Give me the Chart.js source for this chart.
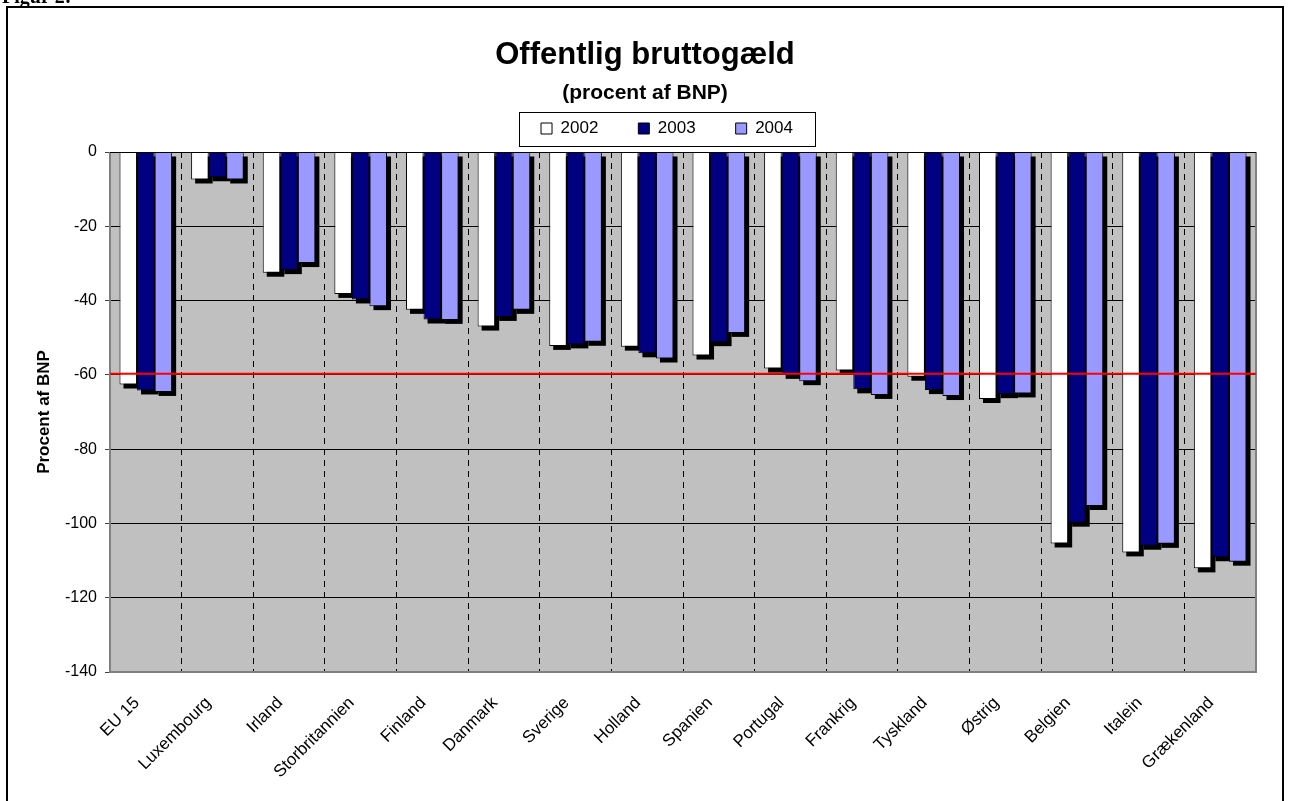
<!DOCTYPE html>
<html>
<head>
<meta charset="utf-8">
<title>Offentlig bruttogæld</title>
<script src="https://cdn.jsdelivr.net/npm/chart.js@4.4.1/dist/chart.umd.min.js"></script>
<style>
    html, body { margin: 0; padding: 0; background: #fff; }
    canvas { display: block; }
</style>
</head>
<body>
<canvas id="myCanvas" width="1289" height="801"></canvas>
<script>
const countries = ['EU 15', 'Luxembourg', 'Irland', 'Storbritannien', 'Finland', 'Danmark', 'Sverige', 'Holland',
    'Spanien', 'Portugal', 'Frankrig', 'Tyskland', 'Østrig', 'Belgien', 'Italein', 'Grækenland'];
const years = ['2002', '2003', '2004'];
const debt2002 = [-62.6, -7.4, -32.5, -38.2, -42.5, -47.0, -52.2, -52.4, -54.8, -58.3, -58.8, -60.5, -66.5, -105.4, -107.8, -112.1];
const debt2003 = [-64.2, -6.8, -31.8, -39.7, -45.1, -44.4, -51.8, -54.2, -51.2, -60.0, -63.9, -64.1, -65.2, -99.8, -106.0, -109.1];
const debt2004 = [-64.6, -7.4, -29.9, -41.5, -45.2, -42.5, -51.1, -55.6, -48.7, -61.7, -65.4, -65.7, -65.0, -95.3, -105.5, -110.3];
const yTicks = [0, -20, -40, -60, -80, -100, -120, -140];
const limit = -60;

const FONT = '"Liberation Sans", Arial, sans-serif';

// baggrund, ramme, skygger, 60%-linje og legende-ramme
const paperPlugin = {
    id: 'paper',
    beforeDraw(chart) {
        const {ctx, chartArea: a} = chart;
        ctx.save();
        ctx.fillStyle = '#fff';
        ctx.fillRect(0, 0, chart.width, chart.height);
        ctx.fillStyle = '#c0c0c0';
        ctx.fillRect(a.left, a.top, a.right - a.left, a.bottom - a.top);
        ctx.strokeStyle = '#000';
        ctx.lineWidth = 2;
        ctx.beginPath();
        ctx.moveTo(7, chart.height + 2);
        ctx.lineTo(7, 7);
        ctx.lineTo(1283, 7);
        ctx.lineTo(1283, chart.height + 2);
        ctx.stroke();
        ctx.fillStyle = '#000';
        ctx.font = 'bold 20px "Liberation Serif", serif';
        ctx.textBaseline = 'alphabetic';
        ctx.fillText('Figur 2:', 2, 3);
        ctx.restore();
    },
    beforeDatasetsDraw(chart) {
        const {ctx, chartArea: a} = chart;
        ctx.save();
        ctx.fillStyle = '#000';
        chart.data.datasets.forEach((ds, i) => {
            chart.getDatasetMeta(i).data.forEach(bar => {
                const p = bar.getProps(['x', 'y', 'base', 'width'], true);
                const top = Math.min(p.y, p.base);
                ctx.fillRect(p.x - p.width / 2 + 4, top + 4, p.width, Math.abs(p.y - p.base));
            });
        });
        ctx.strokeStyle = '#808080';
        ctx.lineWidth = 2;
        ctx.beginPath();
        ctx.moveTo(a.left, a.top);
        ctx.lineTo(a.left, a.bottom);
        ctx.lineTo(a.right, a.bottom);
        ctx.lineTo(a.right, a.top);
        ctx.stroke();
        ctx.restore();
    },
    afterDatasetsDraw(chart) {
        const {ctx, chartArea: a, scales: {y}} = chart;
        ctx.save();
        ctx.strokeStyle = '#000';
        ctx.lineWidth = 1;
        const y0 = Math.round(y.getPixelForValue(0)) + 0.5;
        ctx.beginPath();
        ctx.moveTo(a.left, y0);
        ctx.lineTo(a.right, y0);
        ctx.stroke();
        const yl = y.getPixelForValue(limit);
        ctx.strokeStyle = '#ff0000';
        ctx.lineWidth = 2;
        ctx.beginPath();
        ctx.moveTo(a.left, yl - 1);
        ctx.lineTo(a.right, yl - 1);
        ctx.stroke();
        ctx.restore();
    },
    afterLayout(chart) {
        // legenden flyttes op under undertitlen
        const lg = chart.legend;
        const w = lg.width;
        lg.left = 667 - w / 2;
        lg.right = lg.left + w;
        lg.top = 80;
        lg.bottom = 150;
    },
    afterDraw(chart) {
        const hb = chart.legend.legendHitBoxes;
        if (!hb || !hb.length) return;
        const first = hb[0], last = hb[hb.length - 1];
        const x1 = Math.round(first.left - 22) + 0.5;
        const x2 = Math.round(last.left + last.width + 22) + 0.5;
        const cy = first.top + first.height / 2;
        const ctx = chart.ctx;
        ctx.save();
        ctx.strokeStyle = '#000';
        ctx.lineWidth = 1;
        ctx.strokeRect(x1, Math.round(cy - 17) + 0.5, x2 - x1, 34);
        ctx.restore();
    }
};

const ctx = document.getElementById('myCanvas');
new Chart(ctx, {
    type: 'bar',
    data: {
        labels: countries,
        datasets: [
            {label: years[0], data: debt2002, backgroundColor: '#ffffff', borderColor: '#000', borderWidth: 1},
            {label: years[1], data: debt2003, backgroundColor: '#000080', borderColor: '#000', borderWidth: 1},
            {label: years[2], data: debt2004, backgroundColor: '#9999ff', borderColor: '#000', borderWidth: 1}
        ]
    },
    options: {
        responsive: false,
        devicePixelRatio: 1,
        animation: false,
        categoryPercentage: 0.735,
        barPercentage: 1,
        layout: {padding: {left: 34, right: 33, top: 0, bottom: 0}},
        plugins: {
            tooltip: {enabled: false},
            title: {
                display: true,
                text: 'Offentlig bruttogæld',
                color: '#000',
                font: {family: FONT, size: 31, weight: 'bold'},
                padding: {top: 36.4, bottom: 0}
            },
            subtitle: {
                display: true,
                text: '(procent af BNP)',
                color: '#000',
                font: {family: FONT, size: 21, weight: 'bold'},
                padding: {top: 6.8, bottom: 45.4}
            },
            legend: {
                position: 'top',
                align: 'center',
                maxHeight: 1,
                labels: {
                    boxWidth: 11,
                    boxHeight: 11,
                    padding: 40,
                    color: '#000',
                    font: {family: FONT, size: 17}
                }
            }
        },
        scales: {
            x: {
                grid: {color: '#000', lineWidth: 1, drawTicks: false, offset: true},
                border: {display: false, dash: [6, 5]},
                ticks: {
                    maxRotation: 45,
                    minRotation: 45,
                    autoSkip: false,
                    color: '#000',
                    padding: 21,
                    labelOffset: -9,
                    font: {family: FONT, size: 17}
                },
                afterFit(scale) { scale.height = 129; }
            },
            y: {
                min: -140,
                max: 0,
                afterBuildTicks(scale) {
                    scale.ticks = yTicks.map(v => ({value: v}));
                },
                grid: {color: '#000', lineWidth: 1, tickLength: 5, tickColor: '#404040'},
                border: {display: false},
                ticks: {color: '#000', padding: 8, font: {family: FONT, size: 16}},
                title: {
                    display: true,
                    text: 'Procent af BNP',
                    color: '#000',
                    padding: 0,
                    font: {family: FONT, size: 17, weight: 'bold'}
                },
                afterFit(scale) { scale.width = 76; }
            }
        }
    },
    plugins: [paperPlugin]
});
</script>
</body>
</html>
